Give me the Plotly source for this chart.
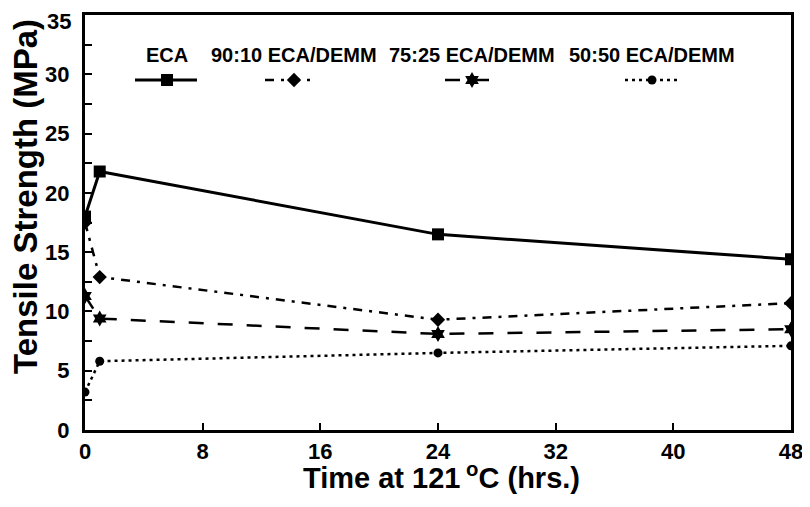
import plotly.graph_objects as go

# ---- data ----
time_hrs = [0, 1, 24, 48]
series_names = ["ECA", "90:10 ECA/DEMM", "75:25 ECA/DEMM", "50:50 ECA/DEMM"]
eca = [18.0, 21.8, 16.5, 14.4]
eca_90_10 = [17.5, 12.9, 9.3, 10.7]
eca_75_25 = [11.3, 9.4, 8.1, 8.5]
eca_50_50 = [3.2, 5.8, 6.5, 7.1]
x_ticks = [0, 8, 16, 24, 32, 40, 48]
y_ticks = [0, 5, 10, 15, 20, 25, 30, 35]
y_tick_labels = ["0", "5", "10", "15", "20", "25", "30", "35"]

values = [eca, eca_90_10, eca_75_25, eca_50_50]
symbols = ["square", "diamond", "hexagram", "circle"]
msizes = [12, 11, 12, 9]
dashes = ["solid", "9px,7px,3px,7px", "15px,14px", "3px,4px"]
widths = [3, 2.5, 2.5, 2.5]

# page offset of the default body margin
OFF = 8
W, H = 810, 507
# desired page-pixel positions of the plot area
PL, PR, PT, PB = 85, 791, 15, 430
L, R, T, B = PL - OFF, PR - OFF, PT - OFF, PB - OFF

FONT = "Liberation Sans, Arial, Helvetica, sans-serif"
fig = go.Figure()

for name, v, s, ms, d, w in zip(series_names, values, symbols, msizes, dashes, widths):
    fig.add_trace(go.Scatter(
        x=time_hrs, y=v, name=name, mode="lines+markers",
        line=dict(color="black", width=w, dash=d),
        marker=dict(symbol=s, size=ms, color="black"),
        showlegend=False,
    ))

# ---- custom legend (page-pixel overlay axes) ----
leg_text_x = [167, 294, 472, 652]
leg_samp = [(135, 197), (265, 313), (445, 490), (625, 680)]
leg_text_y = 55
leg_samp_y = 80
for name, s, ms, d, w, tx, (a, b) in zip(series_names, symbols, msizes, dashes, widths, leg_text_x, leg_samp):
    fig.add_trace(go.Scatter(
        x=[a, tx, b], y=[leg_samp_y] * 3, xaxis="x2", yaxis="y2",
        mode="lines", line=dict(color="black", width=w, dash=d),
        showlegend=False, hoverinfo="skip", cliponaxis=False,
    ))
    fig.add_trace(go.Scatter(
        x=[tx], y=[leg_samp_y], xaxis="x2", yaxis="y2",
        mode="markers", marker=dict(symbol=s, size=ms, color="black"),
        showlegend=False, hoverinfo="skip", cliponaxis=False,
    ))
    fig.add_annotation(x=tx, y=leg_text_y, xref="x2", yref="y2", text=name,
                       showarrow=False, xanchor="center", yanchor="middle",
                       font=dict(family=FONT, size=20, color="black", weight="bold"))


def px_to_paper(px, py):
    return (px - PL) / (PR - PL), (PB - py) / (PB - PT)


tickfont = dict(family=FONT, size=22, color="black", weight="bold")

# top y tick label sits slightly lower in the original (drawn as annotation)
ax, _ = px_to_paper(73, 0)
fig.add_annotation(x=ax, y=y_ticks[-1], xref="paper", yref="y", text=y_tick_labels[-1],
                   showarrow=False, xanchor="right", yanchor="middle", yshift=-6,
                   font=tickfont)
axis_tick_text = y_tick_labels[:-1] + [""]

# axis titles as annotations (paper coordinates)
ax, ay = px_to_paper(25, 197)
fig.add_annotation(x=ax, y=ay, xref="paper", yref="paper", text="Tensile Strength (MPa)",
                   textangle=-90, showarrow=False, xanchor="center", yanchor="middle",
                   font=dict(family=FONT, size=33, color="black", weight="bold"))
ax, ay = px_to_paper(441, 476)
fig.add_annotation(x=ax, y=ay, xref="paper", yref="paper", text="Time at 121<sup> o</sup>C (hrs.)",
                   showarrow=False, xanchor="center", yanchor="middle",
                   font=dict(family=FONT, size=29, color="black", weight="bold"))

fig.update_layout(
    width=W, height=H,
    margin=dict(l=L, r=W - R, t=T, b=H - B, pad=0, autoexpand=False),
    paper_bgcolor="white", plot_bgcolor="white",
    xaxis=dict(range=[0, 48], tickvals=x_ticks, ticks="inside", ticklen=7, tickwidth=2,
               tickcolor="black", showline=True, linewidth=3, linecolor="black", mirror=True,
               showgrid=False, zeroline=False, tickfont=tickfont, ticklabelstandoff=0,
               automargin=False, ticklabeloverflow="allow"),
    yaxis=dict(range=[0, 35], tickvals=y_ticks, ticktext=axis_tick_text, ticks="inside",
               ticklen=7, tickwidth=2,
               tickcolor="black", showline=True, linewidth=3, linecolor="black", mirror=True,
               showgrid=False, zeroline=False, tickfont=tickfont, ticklabelstandoff=8,
               automargin=False, ticklabeloverflow="allow",
               minor=dict(ticks="inside", dtick=2.5, ticklen=7, tickwidth=2, tickcolor="black")),
    xaxis2=dict(range=[PL, PR], overlaying="x", visible=False, fixedrange=True),
    yaxis2=dict(range=[PB, PT], overlaying="y", visible=False, fixedrange=True),
)

fig.write_html("out.html")
